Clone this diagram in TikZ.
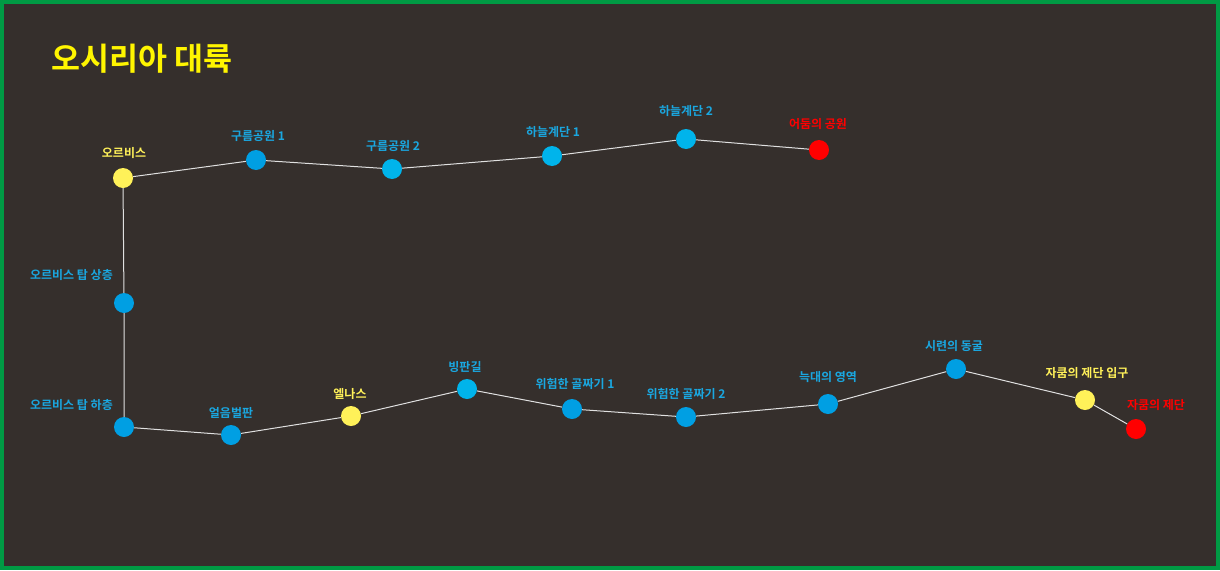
\documentclass[tikz,border=0pt]{standalone}
\usepackage{fontspec}
\newfontfamily\kr{Noto Sans CJK KR}[BoldFont={* Bold}]
\definecolor{bg}{HTML}{352F2C}
\definecolor{frame}{HTML}{009A44}
\definecolor{bdark}{HTML}{009FE3}
\definecolor{blight}{HTML}{00B4EB}
\definecolor{ylw}{HTML}{FFF159}
\definecolor{rd}{HTML}{FF0000}
\definecolor{lbl}{HTML}{1AA7E0}
\tikzset{
  x=1pt,y=-1pt,
  stop/.style={circle,minimum size=20pt,inner sep=0pt},
  sb/.style={stop,fill=bdark},
  sl/.style={stop,fill=blight},
  sy/.style={stop,fill=ylw},
  sr/.style={stop,fill=rd},
  lab/.style={font=\kr\bfseries\fontsize{12}{14}\selectfont,inner sep=0pt,text=lbl},
  laby/.style={lab,text=ylw},
  labr/.style={lab,text=rd},
  route/.style={draw=white!88!black,line width=1pt}
}
\begin{document}
\begin{tikzpicture}
\useasboundingbox (0,0) rectangle (1220,570);
\fill[bg] (0,0) rectangle (1220,570);
\draw[frame,line width=4pt] (2,2) rectangle (1218,568);
\node[anchor=west,inner sep=0pt,text={rgb,255:red,255;green,245;blue,0},font=\kr\bfseries\fontsize{31.5}{36}\selectfont] (title) at (51,59) {오시리아 대륙};
% stops
\node[sy] (orb) at (123,178) {};
\node[sb] (c1) at (256,160) {};
\node[sl] (c2) at (392,169) {};
\node[sl] (h1) at (552,156) {};
\node[sl] (h2) at (686,139) {};
\node[sr] (dark) at (819,150) {};
\node[sb] (tup) at (124,303) {};
\node[sb] (tlo) at (124,427) {};
\node[sb] (ice) at (231,435) {};
\node[sy] (eln) at (351,416) {};
\node[sl] (slip) at (467,389) {};
\node[sb] (v1) at (572,409) {};
\node[sb] (v2) at (686,417) {};
\node[sb] (wolf) at (828,404) {};
\node[sb] (cave) at (956,369) {};
\node[sy] (zent) at (1085,400) {};
\node[sr] (zak) at (1136,429) {};
% routes
\draw[route] (orb) -- (c1) -- (c2) -- (h1) -- (h2) -- (dark);
\draw[route] (orb) -- (tup) -- (tlo) -- (ice) -- (eln) -- (slip) -- (v1) -- (v2) -- (wolf) -- (cave) -- (zent) -- (zak);
% labels
\node[laby] (lorb) at (124,153) {오르비스};
\node[lab] (lc1) at (258,136) {구름공원 1};
\node[lab] (lc2) at (393,146) {구름공원 2};
\node[lab] (lh1) at (553,132) {하늘계단 1};
\node[lab] (lh2) at (686,111) {하늘계단 2};
\node[labr] (ldark) at (818,124) {어둠의 공원};
\node[lab,anchor=east] (ltup) at (113,275) {오르비스 탑 상층};
\node[lab,anchor=east] (ltlo) at (113,405) {오르비스 탑 하층};
\node[lab] (lice) at (231,413) {얼음벌판};
\node[laby] (leln) at (350,394) {엘나스};
\node[lab] (lslip) at (465,367) {빙판길};
\node[lab] (lv1) at (575,384) {위험한 골짜기 1};
\node[lab] (lv2) at (686,394) {위험한 골짜기 2};
\node[lab] (lwolf) at (828,377) {늑대의 영역};
\node[lab] (lcave) at (954,346) {시련의 동굴};
\node[laby] (lzent) at (1087,373) {자쿰의 제단 입구};
\node[labr] (lzak) at (1156,405) {자쿰의 제단};
\end{tikzpicture}
\end{document}
